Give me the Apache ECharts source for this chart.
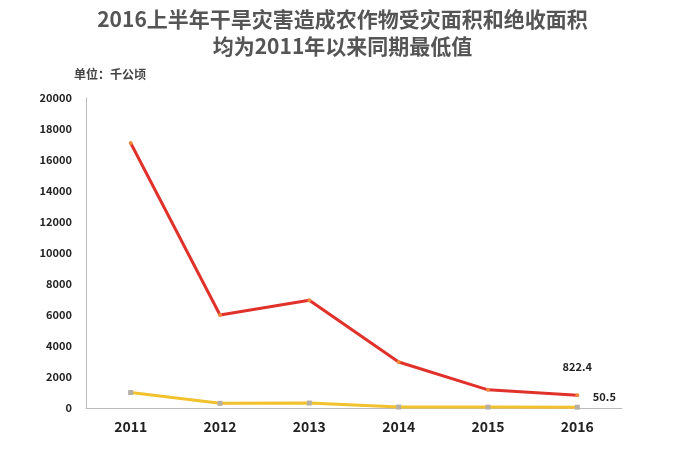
<!DOCTYPE html>
<html>
<head>
<meta charset="utf-8">
<script src="https://cdn.jsdelivr.net/npm/echarts@6/dist/echarts.min.js"></script>
<style>
    html, body {margin: 0; padding: 0; background: #fff;}
    #chart {width: 685px; height: 458px;}
</style>
</head>
<body>
<div id="chart"></div>
<script>
const years = ['2011', '2012', '2013', '2014', '2015', '2016'];
const affectedArea = [17100, 6000, 6950, 2970, 1170, 822.4];
const lostArea = [1000, 300, 320, 60, 60, 50.5];

const chartDom = document.getElementById('chart');
const myChart = echarts.init(chartDom);

const font = '"Noto Sans CJK SC", "Open Sans", sans-serif';

const option = {
    backgroundColor: '#fff',
    title: [
        {
            text: '2016上半年干旱灾害造成农作物受灾面积和绝收面积\n均为2011年以来同期最低值',
            left: 'center',
            top: 1,
            textStyle: {
                fontFamily: font,
                fontSize: 21,
                fontWeight: 'bold',
                color: '#555',
                lineHeight: 27
            }
        },
        {
            text: '单位：千公顷',
            left: 69,
            top: 63,
            textStyle: {
                fontFamily: font,
                fontSize: 12,
                fontWeight: 'bold',
                color: '#444'
            }
        }
    ],
    grid: {
        left: 86,
        right: 63,
        top: 98,
        bottom: 50
    },
    xAxis: {
        type: 'category',
        data: years,
        axisLine: {lineStyle: {color: '#bbb', width: 1}},
        axisTick: {show: false},
        axisLabel: {
            margin: 12,
            fontFamily: font,
            fontSize: 14,
            fontWeight: 'bold',
            color: '#222'
        }
    },
    yAxis: {
        type: 'value',
        min: 0,
        max: 20000,
        interval: 2000,
        axisLine: {show: true, lineStyle: {color: '#bbb', width: 1}},
        axisTick: {show: false},
        splitLine: {show: false},
        axisLabel: {
            margin: 14,
            formatter: (v) => String(v),
            fontFamily: font,
            fontSize: 11,
            fontWeight: 'bold',
            color: '#222'
        }
    },
    series: [
        {
            name: '受灾面积',
            type: 'line',
            data: affectedArea,
            symbol: 'circle',
            symbolSize: 4,
            lineStyle: {color: '#e0312b', width: 3},
            itemStyle: {color: '#ee8a3a'},
            label: {
                show: true,
                formatter: (p) => p.dataIndex === years.length - 1 ? p.value : '',
                position: 'top',
                offset: [0, -16],
                fontFamily: font,
                fontSize: 11,
                fontWeight: 'bold',
                color: '#222'
            }
        },
        {
            name: '绝收面积',
            type: 'line',
            data: lostArea,
            symbol: 'rect',
            symbolSize: 5,
            lineStyle: {color: '#f2c12e', width: 3},
            itemStyle: {color: '#b5b0a5'},
            label: {
                show: true,
                formatter: (p) => p.dataIndex === years.length - 1 ? p.value : '',
                position: 'right',
                offset: [8, -10],
                fontFamily: font,
                fontSize: 11,
                fontWeight: 'bold',
                color: '#222'
            }
        }
    ]
};

option && myChart.setOption(option);
</script>
</body>
</html>
